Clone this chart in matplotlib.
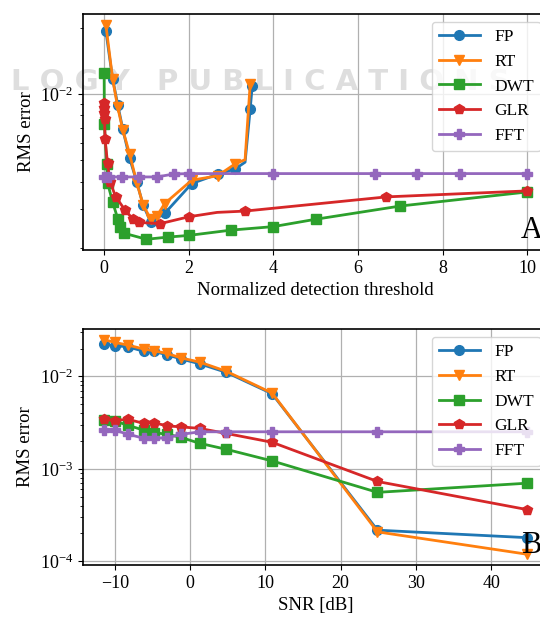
import numpy as np
import matplotlib.pyplot as plt

plt.rcParams['font.family'] = 'serif'
plt.rcParams['font.serif'] = ['Liberation Serif', 'DejaVu Serif']
plt.rcParams['mathtext.fontset'] = 'stix'
plt.rcParams['font.size'] = 13.5
plt.rcParams['xtick.labelsize'] = 13
plt.rcParams['ytick.labelsize'] = 13

# Painel A: erro RMS vs limiar de deteccao normalizado
thr_fp = [0.04, 0.2, 0.32, 0.44, 0.6, 0.77, 0.92, 1.1, 1.43, 2.07, 2.68, 3.1, 3.33, 3.45, 3.5]
rms_fp = [1.93e-2, 1.17e-2, 0.895e-2, 0.692e-2, 0.512e-2, 0.399e-2, 0.313e-2, 0.263e-2,
          0.287e-2, 0.392e-2, 0.432e-2, 0.457e-2, 0.49e-2, 0.85e-2, 1.09e-2]
thr_rt = [0.04, 0.2, 0.32, 0.44, 0.6, 0.77, 0.92, 1.1, 1.25, 1.43, 2.07, 2.68, 3.1, 3.33, 3.45]
rms_rt = [2.06e-2, 1.17e-2, 0.87e-2, 0.688e-2, 0.535e-2, 0.396e-2, 0.314e-2, 0.27e-2,
          0.28e-2, 0.318e-2, 0.406e-2, 0.425e-2, 0.482e-2, 0.503e-2, 1.105e-2]
thr_dwt = [0.0, 0.005, 0.06, 0.08, 0.2, 0.32, 0.38, 0.48, 1.0, 1.5, 2.0, 3.0, 4.0, 5.0, 7.0, 10.0]
rms_dwt = [1.25e-2, 0.73e-2, 0.482e-2, 0.395e-2, 0.323e-2, 0.272e-2, 0.25e-2, 0.233e-2,
           0.219e-2, 0.224e-2, 0.228e-2, 0.241e-2, 0.25e-2, 0.27e-2, 0.31e-2, 0.359e-2]
thr_glr = [0.0, 0.003, 0.006, 0.01, 0.02, 0.08, 0.14, 0.27, 0.5, 0.67, 0.83, 1.33, 2.0, 2.67,
           3.33, 6.67, 10.0]
rms_glr = [0.91e-2, 0.86e-2, 0.82e-2, 0.77e-2, 0.625e-2, 0.484e-2, 0.399e-2, 0.342e-2,
           0.296e-2, 0.272e-2, 0.261e-2, 0.258e-2, 0.277e-2, 0.29e-2, 0.294e-2, 0.341e-2, 0.363e-2]
thr_fft = [0.0, 0.12, 0.42, 0.83, 1.25, 1.64, 2.0, 4.0, 6.4, 7.4, 8.4, 10.0]
rms_fft = [0.42e-2, 0.42e-2, 0.42e-2, 0.42e-2, 0.42e-2, 0.433e-2, 0.435e-2, 0.435e-2,
           0.435e-2, 0.435e-2, 0.435e-2, 0.435e-2]

# Painel B: erro RMS vs SNR
snr = [-11.4, -10.0, -8.3, -6.1, -4.8, -3.1, -1.2, 1.3, 4.8, 10.9, 24.9, 44.8]
snr_fp = [2.24e-2, 2.15e-2, 2.1e-2, 1.87e-2, 1.87e-2, 1.72e-2, 1.55e-2, 1.37e-2, 1.11e-2,
          0.651e-2, 2.17e-4, 1.8e-4]
snr_rt = [2.5e-2, 2.34e-2, 2.19e-2, 1.98e-2, 1.9e-2, 1.78e-2, 1.59e-2, 1.43e-2, 1.14e-2,
          0.662e-2, 2.08e-4, 1.19e-4]
snr_dwt = [3.36e-3, 3.3e-3, 2.97e-3, 2.62e-3, 2.46e-3, 2.38e-3, 2.19e-3, 1.89e-3, 1.63e-3,
           1.22e-3, 5.57e-4, 7.0e-4]
snr_glr = [3.45e-3, 3.33e-3, 3.45e-3, 3.1e-3, 3.17e-3, 2.92e-3, 2.85e-3, 2.74e-3, 2.42e-3,
           1.94e-3, 7.3e-4, 3.62e-4]
snr_fft = [2.62e-3, 2.62e-3, 2.38e-3, 2.14e-3, 2.14e-3, 2.17e-3, 2.36e-3, 2.52e-3, 2.52e-3,
           2.52e-3, 2.52e-3, 2.52e-3]

metodos = ['FP', 'RT', 'DWT', 'GLR', 'FFT']
marcas = ['o', 'v', 's', 'p', 'P']
cores = ['#1f77b4', '#ff7f0e', '#2ca02c', '#d62728', '#9467bd']

fig = plt.figure(figsize=(5.4, 6.17), dpi=100)

# marca d'agua cinza clara (atras dos graficos)
fig.text(130 / 540, 1 - 90 / 617, 'L O G Y', ha='right', va='baseline', color='#dedede',
         fontsize=21, fontweight='bold', family='DejaVu Sans', zorder=0)
fig.text(157 / 540, 1 - 90 / 617, 'P U B L I C A T I O N S', ha='left', va='baseline',
         color='#dedede', fontsize=21, fontweight='bold', family='DejaVu Sans', zorder=0)

# eixos passam um pouco da borda direita, como na figura original (recortada)
axA = fig.add_axes([83 / 540, 367 / 617, 465.5 / 540, 236 / 617])
axB = fig.add_axes([83 / 540, 52 / 617, 465.5 / 540, 236 / 617])

# pontos sem marcador (quebras da linha)
sem_fp = [i for i in range(len(thr_fp)) if i != 12]
sem_rt = [i for i in range(len(thr_rt)) if i != 13]
sem_glr = [i for i in range(len(thr_glr)) if i != 13]

dados_A = [(thr_fp, rms_fp, sem_fp), (thr_rt, rms_rt, sem_rt), (thr_dwt, rms_dwt, None),
           (thr_glr, rms_glr, sem_glr), (thr_fft, rms_fft, None)]
for (x, y, me), nome, m, c in zip(dados_A, metodos, marcas, cores):
    axA.plot(x, y, marker=m, color=c, label=nome, markevery=me, markersize=7, linewidth=2)

dados_B = [snr_fp, snr_rt, snr_dwt, snr_glr, snr_fft]
for y, nome, m, c in zip(dados_B, metodos, marcas, cores):
    axB.plot(snr, y, marker=m, color=c, label=nome, markersize=7, linewidth=2)

for ax, letra, xl in [(axA, 'A', 'Normalized detection threshold'), (axB, 'B', 'SNR [dB]')]:
    ax.set_zorder(2)
    ax.set_facecolor('none')
    ax.set_yscale('log')
    ax.set_xlabel(xl)
    ax.set_ylabel('RMS error')
    ax.grid(True, color='#b0b0b0', linewidth=0.9)
    ax.set_axisbelow(True)
    for s in ax.spines.values():
        s.set_linewidth(1.2)
    ax.legend(loc='upper right', handlelength=2.4, fontsize=12.5, borderaxespad=0.45)
    ax.text(0.94, 0.02, letra, transform=ax.transAxes, fontsize=22,
            ha='left', va='bottom')

axA.set_xticks([0, 2, 4, 6, 8, 10])

plt.savefig('out.png', dpi=100)
